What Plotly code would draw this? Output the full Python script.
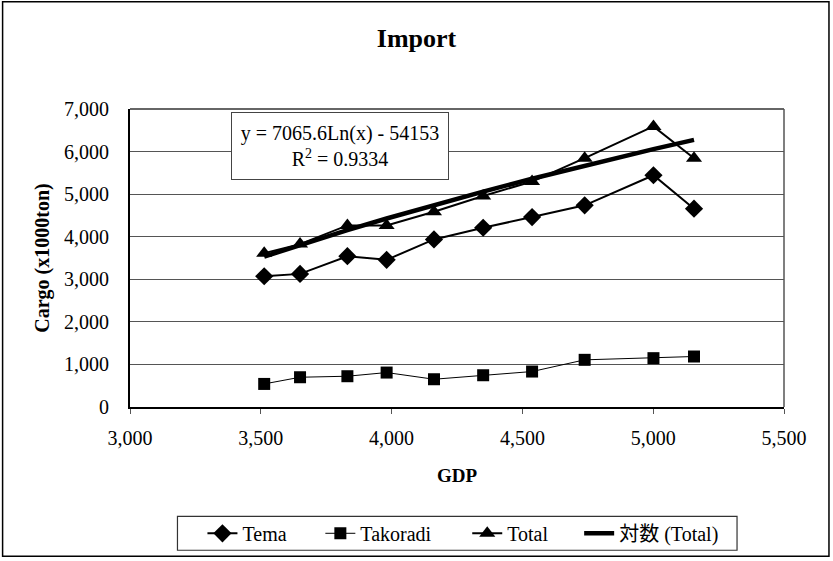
import numpy as np
import plotly.graph_objects as go

gdp = [3513, 3650, 3831, 3981, 4162, 4350, 4537, 4738, 5001, 5156]
tema = [3071, 3127, 3542, 3457, 3936, 4211, 4462, 4737, 5444, 4659]
takoradi = [542, 699, 723, 809, 652, 746, 833, 1108, 1147, 1186]
total = [a + b for a, b in zip(tema, takoradi)]

# logarithmic trend fitted on Total (as in the chart: y = a*ln(x) + b)
coef = np.polyfit(np.log(gdp), total, 1)
trend = list(coef[0] * np.log(gdp) + coef[1])

x_ticks = [3000, 3500, 4000, 4500, 5000, 5500]
y_ticks = [0, 1000, 2000, 3000, 4000, 5000, 6000, 7000]

FONT = "Liberation Serif, Times New Roman, serif"
LEGFONT = "Liberation Serif, Times New Roman, Noto Sans CJK JP, serif"

L, R, T, B = 129.5, 49, 109, 153.5
PW, PH = 833 - L - R, 561 - T - B


def px_x(p):
    return (p - L) / PW


def px_y(p):
    return (561 - B - p) / PH


fig = go.Figure()
fig.add_trace(go.Scatter(x=gdp, y=tema, name="Tema", mode="lines+markers", legend="legend",
                         line=dict(color="black", width=2),
                         marker=dict(symbol="diamond", size=14, color="black")))
fig.add_trace(go.Scatter(x=gdp, y=takoradi, name="Takoradi", mode="lines+markers", legend="legend2",
                         line=dict(color="black", width=1),
                         marker=dict(symbol="square", size=12, color="black")))
fig.add_trace(go.Scatter(x=gdp, y=total, name="Total", mode="lines+markers", legend="legend3",
                         line=dict(color="black", width=2),
                         marker=dict(symbol="triangle-up", size=14, color="black")))
fig.add_trace(go.Scatter(x=gdp, y=trend, name="対数 (Total)", mode="lines", legend="legend4",
                         line=dict(color="black", width=4.5)))

leg_common = dict(orientation="h", xanchor="left", yanchor="middle", y=px_y(534),
                  borderwidth=0, bgcolor="rgba(0,0,0,0)",
                  font=dict(size=20, family=LEGFONT))

fig.update_layout(
    width=833, height=561,
    paper_bgcolor="white", plot_bgcolor="white",
    margin=dict(l=L, r=R, t=T, b=B, autoexpand=False),
    font=dict(family=FONT, size=20, color="black"),
    title=dict(text="<b>Import</b>", x=0.5, xref="container", xanchor="center",
               y=1 - 38 / 561, yref="container", yanchor="middle",
               font=dict(size=26, family=FONT)),
    showlegend=True,
    legend=dict(x=px_x(247 - 45), **leg_common),
    legend2=dict(x=px_x(365 - 45), **leg_common),
    legend3=dict(x=px_x(512 - 45), **leg_common),
    legend4=dict(x=px_x(624 - 45), **leg_common),
)

fig.update_xaxes(range=[3000, 5500], tickvals=x_ticks,
                 ticktext=[f"{v:,}" for v in x_ticks],
                 showgrid=False, zeroline=False, automargin=False,
                 showline=True, linecolor="black", linewidth=2,
                 ticks="outside", ticklen=5, tickcolor="#555", ticklabelstandoff=7,
                 tickfont=dict(size=20, family=FONT),
                 title=dict(text="<b>GDP</b>", font=dict(size=19, family=FONT), standoff=21))
fig.update_yaxes(range=[0, 7000], tickvals=y_ticks,
                 ticktext=[f"{v:,}" for v in y_ticks],
                 showgrid=True, gridcolor="#555", gridwidth=1, zeroline=False, automargin=False,
                 showline=True, linecolor="black", linewidth=2,
                 ticks="", ticklabelstandoff=15, tickfont=dict(size=20, family=FONT),
                 title=dict(text="<b>Cargo (x1000ton)</b>", font=dict(size=20, family=FONT), standoff=9))

# top and right borders of plot area
fig.add_shape(type="line", xref="paper", yref="paper", x0=0, x1=1, y0=1, y1=1,
              line=dict(color="#333", width=1.5))
fig.add_shape(type="line", xref="paper", yref="paper", x0=1, x1=1, y0=0, y1=1,
              line=dict(color="#555", width=1.5))

# legend frame
fig.add_shape(type="rect", xref="paper", yref="paper",
              x0=px_x(177), x1=px_x(737), y0=px_y(551), y1=px_y(517),
              line=dict(color="#333", width=1.2), fillcolor="rgba(0,0,0,0)")

# outer chart border
fig.add_shape(type="rect", xref="paper", yref="paper",
              x0=px_x(2), x1=px_x(829), y0=px_y(557), y1=px_y(1.5),
              line=dict(color="black", width=1.5), fillcolor="rgba(0,0,0,0)")

fig.add_annotation(xref="paper", yref="paper", x=px_x(340), y=px_y(146),
                   xanchor="center", yanchor="middle",
                   text="y = 7065.6Ln(x) - 54153<br>R<sup>2</sup> = 0.9334",
                   showarrow=False, align="center", width=210, height=60,
                   font=dict(size=20, family=FONT),
                   bordercolor="#444", borderwidth=1, borderpad=3, bgcolor="white")

fig.write_html("out.html", config={"displayModeBar": False},
               post_script="document.body.style.margin='0';")
